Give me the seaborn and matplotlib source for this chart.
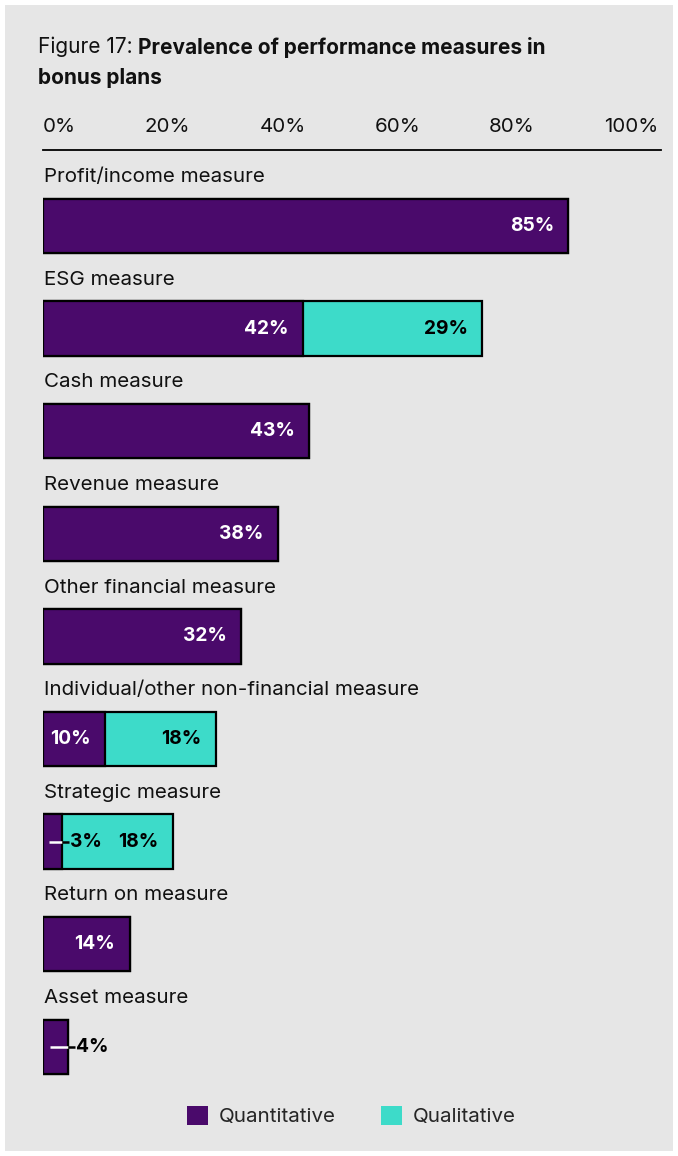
import numpy as np
import pandas as pd
import seaborn as sns
import matplotlib
matplotlib.use("Agg")
import matplotlib.pyplot as plt
from matplotlib.patches import Patch, Rectangle

# ---- data -------------------------------------------------------------
categories = [
    "Profit/income measure",
    "ESG measure",
    "Cash measure",
    "Revenue measure",
    "Other financial measure",
    "Individual/other non-financial measure",
    "Strategic measure",
    "Return on measure",
    "Asset measure",
]
quantitative = [85, 42, 43, 38, 32, 10, 3, 14, 4]
qualitative = [0, 29, 0, 0, 0, 18, 18, 0, 0]
tick_labels = ["0%", "20%", "40%", "60%", "80%", "100%"]
series_names = ["Quantitative", "Qualitative"]

# ---- style ------------------------------------------------------------
PURPLE = "#4a0a6b"
TEAL = "#3ddbc9"
PANEL = "#e6e6e6"
INK = "#111111"
W, H = 678, 1156

sns.set_theme(style="white")
plt.rcParams["font.family"] = ["Inter", "DejaVu Sans"]

fig = plt.figure(figsize=(W / 100, H / 100), dpi=100, facecolor="white")
fig.add_artist(Rectangle((5 / W, 5 / H), 668 / W, 1146 / H,
                         transform=fig.transFigure, facecolor=PANEL,
                         edgecolor="none", zorder=-10))

ax = fig.add_axes([43 / W, 1 - 1098 / H, 618 / W, (1098 - 150) / H])
ax.set_facecolor("none")

df = pd.DataFrame({
    "measure": categories,
    "quant": quantitative,
    "total": [a + b for a, b in zip(quantitative, qualitative)],
})

bar_kw = dict(orient="h", edgecolor="black", linewidth=1.6, width=0.53,
              saturation=1, ax=ax, errorbar=None)
sns.barplot(data=df, x="total", y="measure", color=TEAL, **bar_kw)
sns.barplot(data=df, x="quant", y="measure", color=PURPLE, **bar_kw)

ax.set_xlim(0, 100)
ax.set_ylim(len(categories) - 0.5, -0.74)
ax.set_xlabel("")
ax.set_ylabel("")
ax.set_xticks([])
ax.set_yticks([])
for side in ["left", "right", "bottom"]:
    ax.spines[side].set_visible(False)
ax.spines["top"].set_visible(True)
ax.spines["top"].set_color("black")
ax.spines["top"].set_linewidth(1.3)

FS = 14.8      # category, axis and legend text
VFS = 13.8     # value labels
pad = 2.3

for i, (cat, q, l) in enumerate(zip(categories, quantitative, qualitative)):
    ax.text(0.15, i - 0.475, cat, ha="left", va="center", fontsize=FS,
            color=INK)
    if q >= 8:
        ax.text(q - pad, i, f"{q}%", ha="right", va="center", fontsize=VFS,
                fontweight="bold", color="white")
    else:
        # small segment: leader line out of the bar, label to its right
        ax.plot([q * 0.3, q], [i, i], color="white", lw=1.8,
                solid_capstyle="butt", zorder=5)
        ax.plot([q, q + 1.2], [i, i], color="black", lw=1.8,
                solid_capstyle="butt", zorder=5)
        ax.text(q + 1.3, i, f"{q}%", ha="left", va="center", fontsize=VFS,
                fontweight="bold", color="black", zorder=6)
    if l > 0:
        ax.text(q + l - pad, i, f"{l}%", ha="right", va="center",
                fontsize=VFS, fontweight="bold", color="black")

# ---- title --------------------------------------------------------------
renderer = fig.canvas.get_renderer()
TFS = 15
t1 = fig.text(38 / W, 1 - 47 / H, "Figure 17: ", ha="left", va="center",
              fontsize=TFS, color=INK)
ext = t1.get_window_extent(renderer)
fig.text(ext.x1 / W, 1 - 47 / H, "Prevalence of performance measures in",
         ha="left", va="center", fontsize=TFS, fontweight="bold", color=INK)
fig.text(38 / W, 1 - 78 / H, "bonus plans", ha="left", va="center",
         fontsize=TFS, fontweight="bold", color=INK)

# ---- axis labels spread across the top rule -----------------------------
left_px, right_px = 43, 658
tick_texts = [fig.text(0, 1 - 127 / H, s, ha="left", va="center",
                       fontsize=FS, color=INK) for s in tick_labels]
widths = [t.get_window_extent(renderer).width for t in tick_texts]
gap = (right_px - left_px - sum(widths)) / (len(widths) - 1)
x = left_px
for t, w in zip(tick_texts, widths):
    t.set_x(x / W)
    x += w + gap

# ---- legend -------------------------------------------------------------
handles = [Patch(facecolor=PURPLE, edgecolor="none", label=series_names[0]),
           Patch(facecolor=TEAL, edgecolor="none", label=series_names[1])]
fig.legend(handles=handles, loc="center", bbox_to_anchor=(351 / W, 1 - 1116 / H),
           ncol=2, frameon=False, fontsize=FS, handlelength=1.05,
           handleheight=1.05, handletextpad=0.5, columnspacing=2.2)

fig.savefig("out.png", dpi=100, facecolor="white")
